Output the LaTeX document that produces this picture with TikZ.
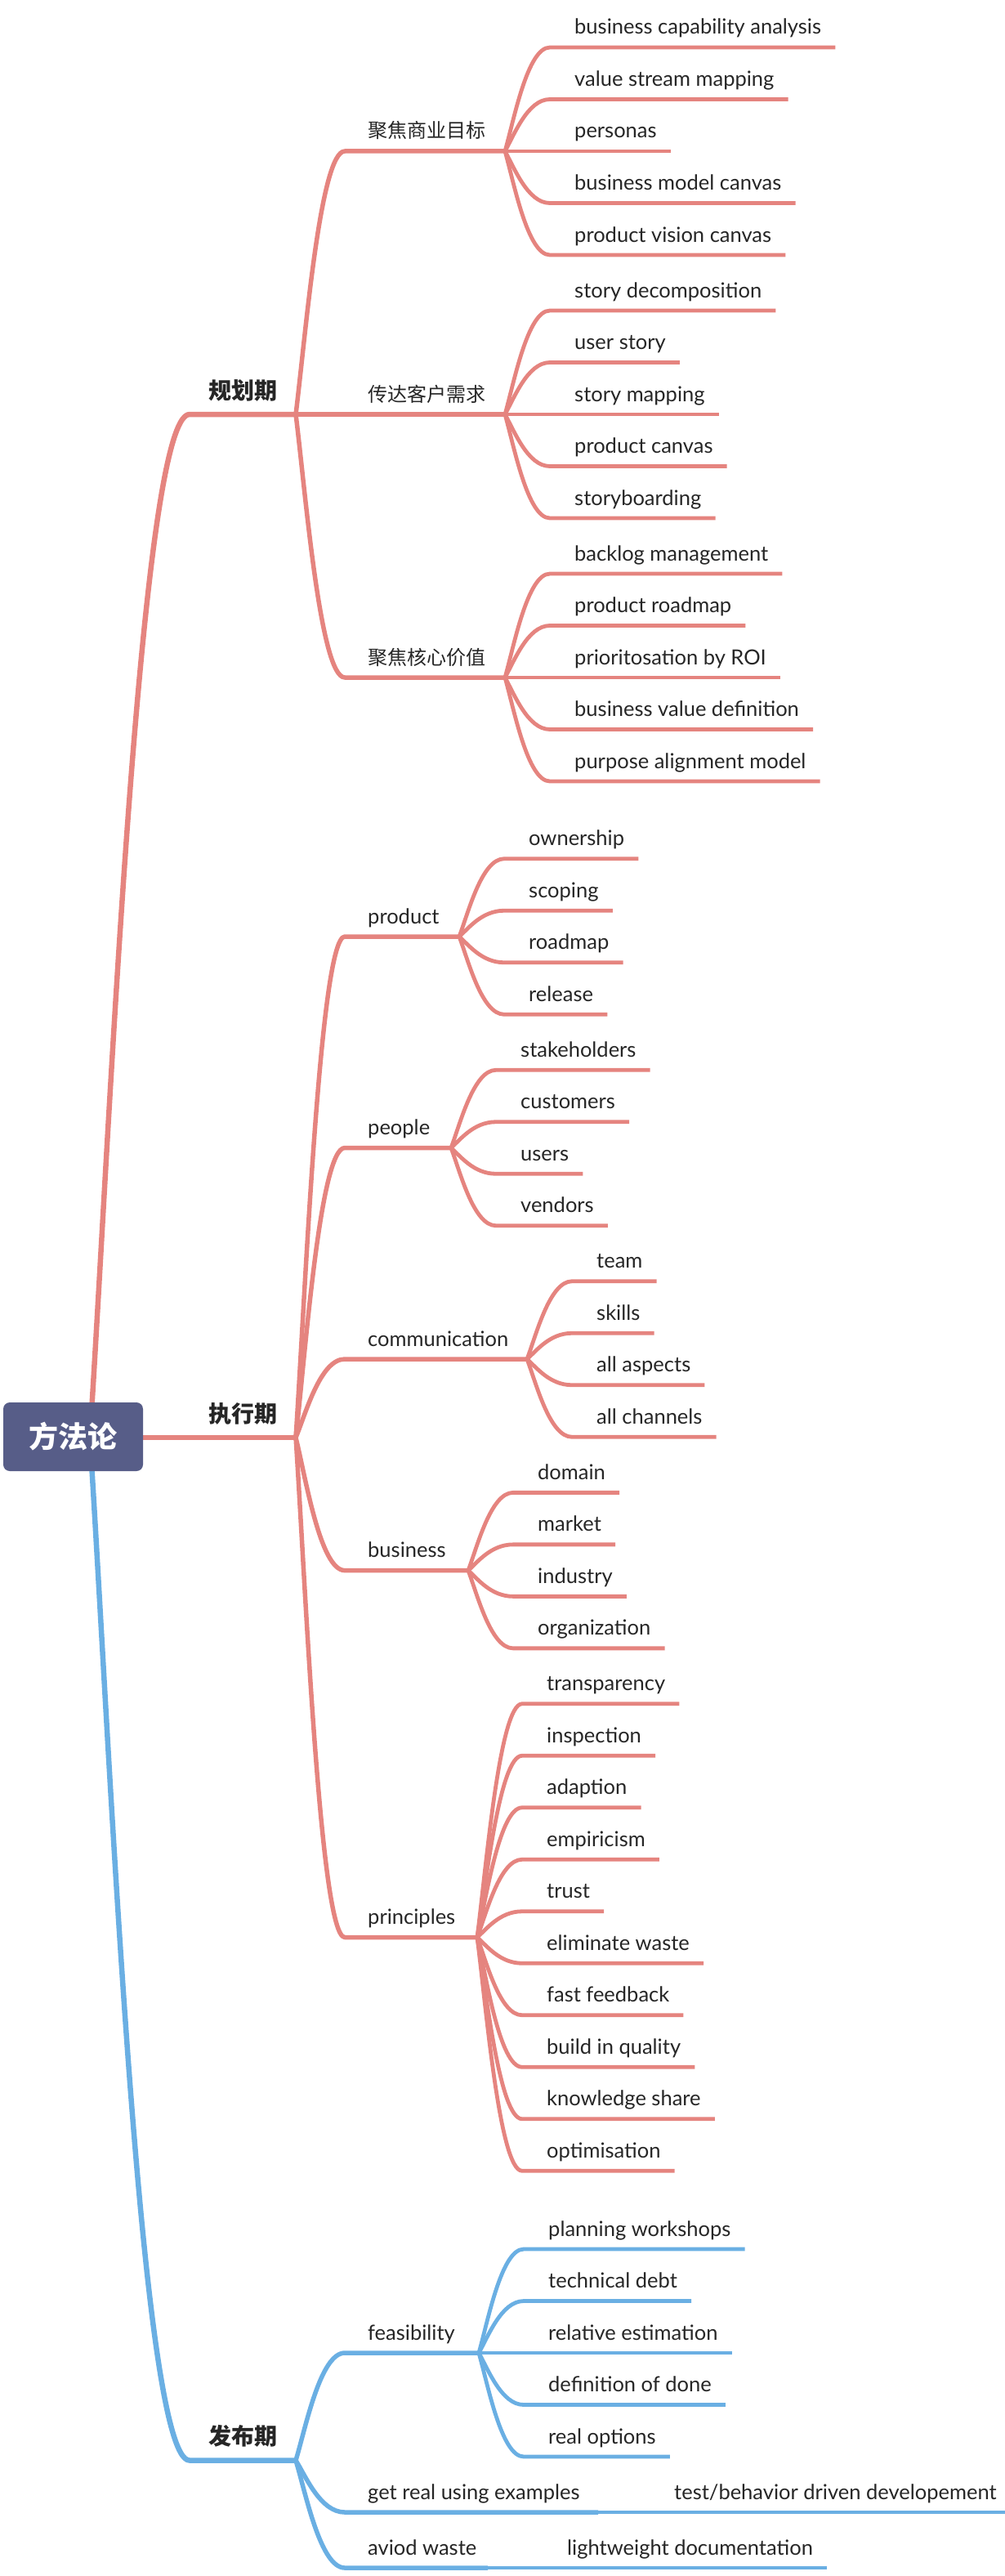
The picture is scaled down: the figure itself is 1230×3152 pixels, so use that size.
\documentclass[tikz,border=0pt]{standalone}
\usepackage{fontspec}
\setmainfont{Lato}
\newfontfamily\cjk{Noto Sans CJK SC}
\usetikzlibrary{calc}
\definecolor{pk}{HTML}{E5847F}
\definecolor{bl}{HTML}{6AAFE3}
\definecolor{rootc}{HTML}{575D88}
\definecolor{txt}{HTML}{262626}
\pgfdeclarelayer{bg}
\pgfsetlayers{bg,main}
\tikzset{
  br/.style={to path={let \p1=(\tikztostart), \p2=(\tikztotarget) in
     .. controls ({\x1+0.2*(\x2-\x1)},{\y1+0.3*(\y2-\y1)}) and ({\x2-0.5*(\x2-\x1)},{\y2}) .. (\tikztotarget)}},
  conn/.style={line cap=butt, line join=round},
  mainw/.style={conn, line width=6.5pt},
  subw/.style={conn, line width=5.5pt},
  leafw/.style={conn, line width=4.8pt},
  lbl/.style={anchor=base west, inner sep=0pt, text=txt},
  leaftext/.style={lbl, font=\fontsize{25.5}{29}\selectfont},
  subcn/.style={lbl, font=\cjk\fontsize{24}{28}\selectfont},
  subla/.style={lbl, font=\fontsize{25.5}{29}\selectfont},
  mainlbl/.style={lbl, font=\cjk\bfseries\fontsize{28}{32}\selectfont},
  rootbox/.style={fill=rootc, rounded corners=8pt, minimum width=171pt, minimum height=84pt,
     inner sep=0pt, text=white, font=\cjk\bfseries\fontsize{36}{40}\selectfont},
}
% leaf: #1 name, #2 junction, #3 junction x, #4 line y, #5 colour, #6 text
\newcommand\leafnode[6]{%
  \node[leaftext] (#1) at ({#3+85},{#4-16}) {#6};
  \coordinate (#1c) at ({#3+55},#4);
  \begin{pgfonlayer}{bg}
    \draw[leafw,#5] (#2) to[br] (#1c) -- ($(#1c -| #1.east)+(17,0)$);
  \end{pgfonlayer}
}
% sub: #1 name, #2 main junction, #3 line y, #4 colour, #5 style, #6 text, #7 junction x
\newcommand\subnode[7]{%
  \node[#5] (#1) at (450,{#3-16}) {#6};
  \coordinate (#1c) at (422,#3);
  \coordinate (#1j) at (#7,#3);
  \begin{pgfonlayer}{bg}
    \draw[subw,#4] (#2) to[br] (#1c) -- (#1j);
  \end{pgfonlayer}
}
\begin{document}
\begin{tikzpicture}[x=1pt,y=-1pt]
\useasboundingbox (0,0) rectangle (1230,3152);

% root and main branches
\node[rootbox] (root) at (89.5,1758) {方法论};
\coordinate (rout) at (110,1759);
\node[mainlbl] (m1) at (255,488) {规划期};
\coordinate (m1c) at (232,507);
\coordinate (m1j) at (362,507);
\node[mainlbl] (m2) at (255,1740) {执行期};
\coordinate (m2j) at (362,1759);
\node[mainlbl] (m3) at (255,2991.5) {发布期};
\coordinate (m3c) at (232,3010.5);
\coordinate (m3j) at (362,3010.5);
\begin{pgfonlayer}{bg}
  \draw[mainw,pk] (rout) to[br] (m1c) -- (m1j);
  \draw[mainw,pk] (root.east |- m2j) -- (m2j);
  \draw[mainw,bl] (rout) to[br] (m3c) -- (m3j);
\end{pgfonlayer}

% ---------- 规划期 ----------
\subnode{a1}{m1j}{185}{pk}{subcn}{聚焦商业目标}{618}
\leafnode{a11}{a1j}{618}{58}{pk}{business capability analysis}
\leafnode{a12}{a1j}{618}{121.5}{pk}{value stream mapping}
\leafnode{a13}{a1j}{618}{185}{pk}{personas}
\leafnode{a14}{a1j}{618}{248.5}{pk}{business model canvas}
\leafnode{a15}{a1j}{618}{312}{pk}{product vision canvas}

\subnode{a2}{m1j}{507}{pk}{subcn}{传达客户需求}{618}
\leafnode{a21}{a2j}{618}{380}{pk}{story decomposition}
\leafnode{a22}{a2j}{618}{443.5}{pk}{user story}
\leafnode{a23}{a2j}{618}{507}{pk}{story mapping}
\leafnode{a24}{a2j}{618}{570.5}{pk}{product canvas}
\leafnode{a25}{a2j}{618}{634}{pk}{storyboarding}

\subnode{a3}{m1j}{829}{pk}{subcn}{聚焦核心价值}{618}
\leafnode{a31}{a3j}{618}{702}{pk}{backlog management}
\leafnode{a32}{a3j}{618}{765.5}{pk}{product roadmap}
\leafnode{a33}{a3j}{618}{829}{pk}{prioritosation by ROI}
\leafnode{a34}{a3j}{618}{892.5}{pk}{business value definition}
\leafnode{a35}{a3j}{618}{956}{pk}{purpose alignment model}

% ---------- 执行期 ----------
\subnode{b1}{m2j}{1146}{pk}{subla}{product}{562}
\leafnode{b11}{b1j}{562}{1050.75}{pk}{ownership}
\leafnode{b12}{b1j}{562}{1114.25}{pk}{scoping}
\leafnode{b13}{b1j}{562}{1177.75}{pk}{roadmap}
\leafnode{b14}{b1j}{562}{1241.25}{pk}{release}

\subnode{b2}{m2j}{1404.5}{pk}{subla}{people}{552}
\leafnode{b21}{b2j}{552}{1309.25}{pk}{stakeholders}
\leafnode{b22}{b2j}{552}{1372.75}{pk}{customers}
\leafnode{b23}{b2j}{552}{1436.25}{pk}{users}
\leafnode{b24}{b2j}{552}{1499.75}{pk}{vendors}

\subnode{b3}{m2j}{1663}{pk}{subla}{communication}{645}
\leafnode{b31}{b3j}{645}{1567.75}{pk}{team}
\leafnode{b32}{b3j}{645}{1631.25}{pk}{skills}
\leafnode{b33}{b3j}{645}{1694.75}{pk}{all aspects}
\leafnode{b34}{b3j}{645}{1758.25}{pk}{all channels}

\subnode{b4}{m2j}{1921.6}{pk}{subla}{business}{573}
\leafnode{b41}{b4j}{573}{1826.35}{pk}{domain}
\leafnode{b42}{b4j}{573}{1889.85}{pk}{market}
\leafnode{b43}{b4j}{573}{1953.35}{pk}{industry}
\leafnode{b44}{b4j}{573}{2016.85}{pk}{organization}

\subnode{b5}{m2j}{2370.5}{pk}{subla}{principles}{584}
\leafnode{b51}{b5j}{584}{2084.75}{pk}{transparency}
\leafnode{b52}{b5j}{584}{2148.25}{pk}{inspection}
\leafnode{b53}{b5j}{584}{2211.75}{pk}{adaption}
\leafnode{b54}{b5j}{584}{2275.25}{pk}{empiricism}
\leafnode{b55}{b5j}{584}{2338.75}{pk}{trust}
\leafnode{b56}{b5j}{584}{2402.25}{pk}{eliminate waste}
\leafnode{b57}{b5j}{584}{2465.75}{pk}{fast feedback}
\leafnode{b58}{b5j}{584}{2529.25}{pk}{build in quality}
\leafnode{b59}{b5j}{584}{2592.75}{pk}{knowledge share}
\leafnode{b50}{b5j}{584}{2656.25}{pk}{optimisation}

% ---------- 发布期 ----------
\subnode{c1}{m3j}{2879}{bl}{subla}{feasibility}{586}
\leafnode{c11}{c1j}{586}{2752}{bl}{planning workshops}
\leafnode{c12}{c1j}{586}{2815.5}{bl}{technical debt}
\leafnode{c13}{c1j}{586}{2879}{bl}{relative estimation}
\leafnode{c14}{c1j}{586}{2942.5}{bl}{definition of done}
\leafnode{c15}{c1j}{586}{3006}{bl}{real options}

\subnode{c2}{m3j}{3074}{bl}{subla}{get real using examples}{732}
\node[leaftext] (c21) at (825,3058) {test/behavior driven developement};
\subnode{c3}{m3j}{3142}{bl}{subla}{aviod waste}{597}
\node[leaftext] (c31) at (694,3126) {lightweight documentation};
\begin{pgfonlayer}{bg}
  \draw[leafw,bl] (c2j) -- ($(c2j -| c21.east)+(17,0)$);
  \draw[leafw,bl] (c3j) -- ($(c3j -| c31.east)+(17,0)$);
\end{pgfonlayer}
\end{tikzpicture}
\end{document}
